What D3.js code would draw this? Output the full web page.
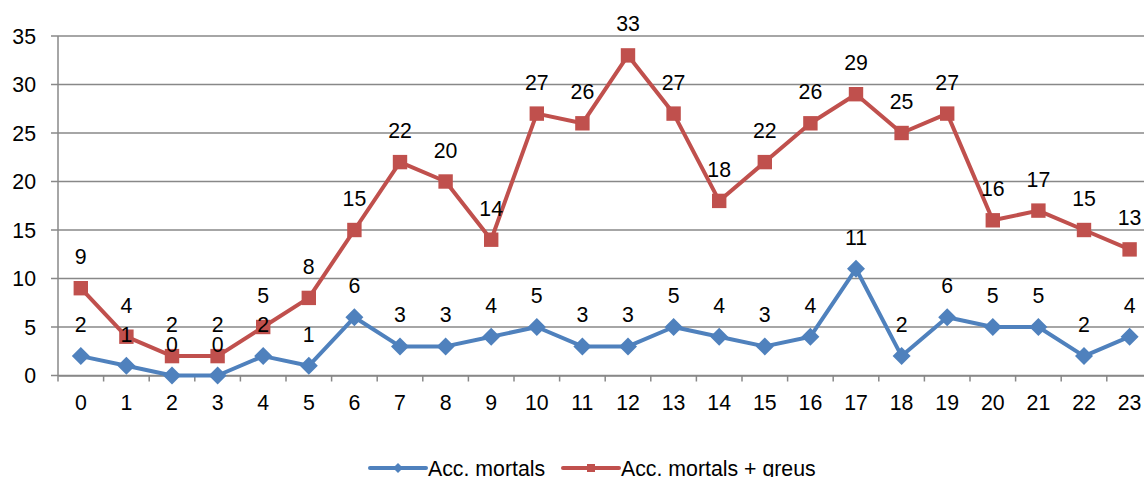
<!DOCTYPE html>
<html>
<head>
<meta charset="utf-8">
<script src="https://cdn.jsdelivr.net/npm/d3@7"></script>
<style>
  body { margin: 0; background: #fff; }
  svg { display: block; font-family: "Liberation Sans", Arial, sans-serif; }
</style>
</head>
<body>
<svg width="1144" height="477"></svg>
<script>
var hours = ["0","1","2","3","4","5","6","7","8","9","10","11","12","13","14","15","16","17","18","19","20","21","22","23"];
var mortals = [2,1,0,0,2,1,6,3,3,4,5,3,3,5,4,3,4,11,2,6,5,5,2,4];
var mortalsGreus = [9,4,2,2,5,8,15,22,20,14,27,26,33,27,18,22,26,29,25,27,16,17,15,13];
var yTicks = [0,5,10,15,20,25,30,35];

var svg = d3.select("svg");
var left = 58, step = 45.6;
var fs = 21.3;

// chart runs past the right edge, as in the original picture
var x = d3.scaleBand()
    .domain(hours)
    .range([left, left + hours.length * step]);

var y = d3.scaleLinear()
    .domain([0, 35])
    .range([375.5, 36]);

var grey = "#888888";

// gridlines
svg.append("g")
  .selectAll("line")
  .data(yTicks)
  .enter().append("line")
  .attr("x1", left - 7)
  .attr("x2", 1144)
  .attr("y1", function(d) { return y(d); })
  .attr("y2", function(d) { return y(d); })
  .attr("stroke", grey)
  .attr("stroke-width", 1.3);

// y labels
svg.append("g")
  .selectAll("text")
  .data(yTicks)
  .enter().append("text")
  .attr("x", 36)
  .attr("y", function(d) { return y(d); })
  .attr("dy", "0.36em")
  .attr("text-anchor", "end")
  .attr("font-size", fs)
  .attr("fill", "#000")
  .text(function(d) { return d; });

// y axis line
svg.append("line")
  .attr("x1", left).attr("x2", left)
  .attr("y1", y(35)).attr("y2", y(0))
  .attr("stroke", grey)
  .attr("stroke-width", 1.5);

// x axis
var xAxis = svg.append("g")
  .attr("transform", "translate(0," + y(0) + ")")
  .call(d3.axisBottom(x).tickSize(0).tickPadding(19));
xAxis.select(".domain").attr("stroke", grey).attr("stroke-width", 1.5);
xAxis.selectAll("text")
  .attr("font-size", fs)
  .attr("font-family", "Liberation Sans, Arial, sans-serif")
  .attr("fill", "#000");

// tick marks between categories
svg.append("g")
  .selectAll("line")
  .data(d3.range(hours.length + 1))
  .enter().append("line")
  .attr("x1", function(i) { return left + i * step; })
  .attr("x2", function(i) { return left + i * step; })
  .attr("y1", y(0))
  .attr("y2", y(0) + 6)
  .attr("stroke", grey)
  .attr("stroke-width", 1.5);

var series = [
  {name: "Acc. mortals", values: mortals, color: "#4F81BD", marker: "diamond"},
  {name: "Acc. mortals + greus", values: mortalsGreus, color: "#C0504D", marker: "square"}
];

var line = d3.line()
  .x(function(d, i) { return x(hours[i]) + x.bandwidth() / 2; })
  .y(function(d) { return y(d); });

function drawMarker(sel, type, size) {
  if (type === "diamond") {
    sel.append("path")
      .attr("d", "M0," + (-size) + "L" + size + ",0L0," + size + "L" + (-size) + ",0Z");
  } else {
    sel.append("rect")
      .attr("x", -size * 0.8).attr("y", -size * 0.8)
      .attr("width", size * 1.6).attr("height", size * 1.6);
  }
}

series.forEach(function(s) {
  svg.append("path")
    .datum(s.values)
    .attr("fill", "none")
    .attr("stroke", s.color)
    .attr("stroke-width", 4)
    .attr("stroke-linejoin", "round")
    .attr("d", line);

  var pts = svg.append("g")
    .selectAll("g")
    .data(s.values)
    .enter().append("g")
    .attr("transform", function(d, i) {
      return "translate(" + (x(hours[i]) + x.bandwidth() / 2) + "," + y(d) + ")";
    })
    .attr("fill", s.color);
  drawMarker(pts, s.marker, 9);
});

// data labels
series.forEach(function(s) {
  svg.append("g")
    .selectAll("text")
    .data(s.values)
    .enter().append("text")
    .attr("x", function(d, i) { return x(hours[i]) + x.bandwidth() / 2; })
    .attr("y", function(d) { return y(d) - 24; })
    .attr("text-anchor", "middle")
    .attr("font-size", fs)
    .attr("fill", "#000")
    .text(function(d) { return d; });
});

// legend
var legend = [
  {x: 370, color: "#4F81BD", marker: "diamond", name: "Acc. mortals"},
  {x: 563, color: "#C0504D", marker: "square", name: "Acc. mortals + greus"}
];
var lg = svg.append("g")
  .selectAll("g")
  .data(legend)
  .enter().append("g")
  .attr("transform", function(d) { return "translate(" + d.x + ",468)"; });
lg.append("line")
  .attr("x1", 0).attr("x2", 56)
  .attr("stroke", function(d) { return d.color; })
  .attr("stroke-width", 4)
  .attr("stroke-linecap", "round");
lg.each(function(d) {
  var m = d3.select(this).append("g")
    .attr("transform", "translate(28,0)")
    .attr("fill", d.color);
  drawMarker(m, d.marker, 5);
});
lg.append("text")
  .attr("x", 58)
  .attr("y", 8)
  .attr("font-size", fs)
  .attr("fill", "#000")
  .text(function(d) { return d.name; });
</script>
</body>
</html>
